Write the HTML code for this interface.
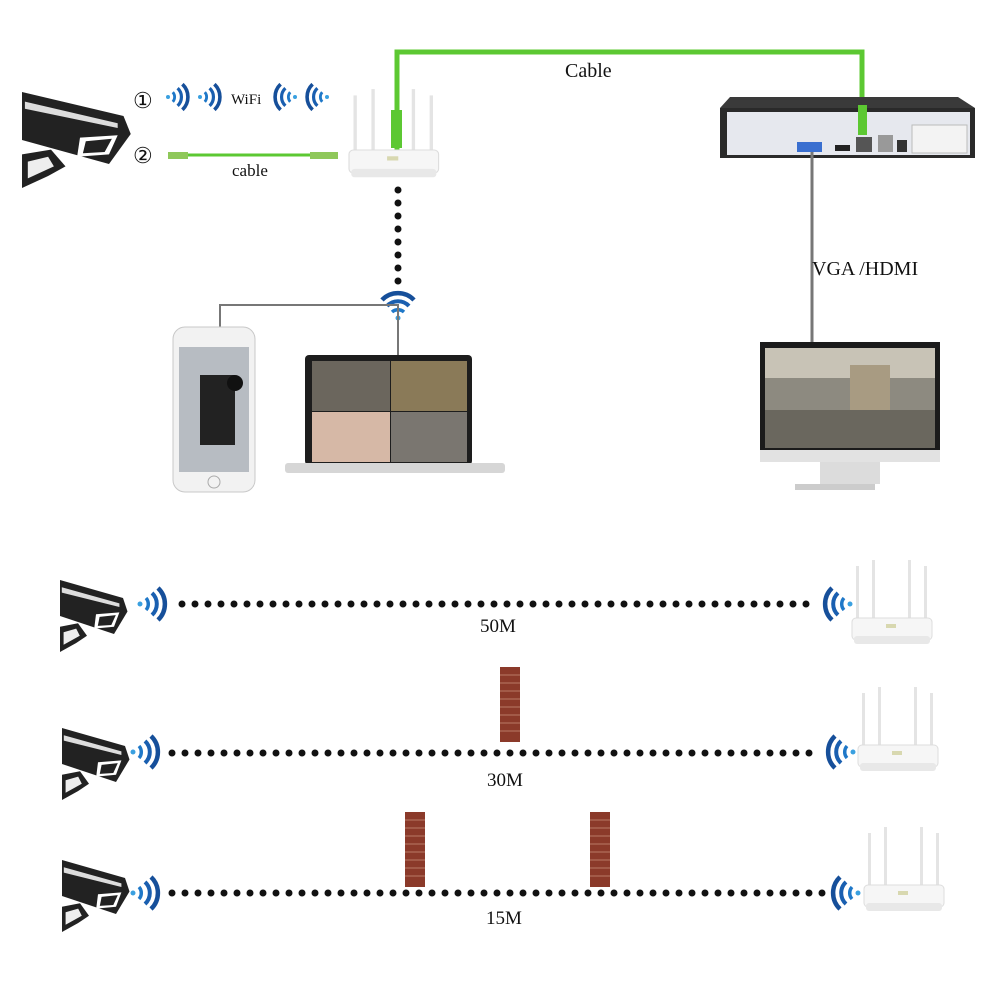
<!DOCTYPE html>
<html><head><meta charset="utf-8"><style>
html,body{margin:0;padding:0;background:#fff;}
svg{display:block;}
text{font-family:"Liberation Serif",serif;fill:#111;}
</style></head><body>
<svg width="1000" height="1000" viewBox="0 0 1000 1000" xmlns="http://www.w3.org/2000/svg">
<defs>
 <g id="cam">
  <polygon points="0,0 70,20 75,35 60,60 0,40" fill="#222"/>
  <polygon points="2,8 66,26 66,30 2,14" fill="#ddd"/>
  <polygon points="40,38 66,36 60,52 38,54" fill="#fff"/>
  <polygon points="44,41 62,39 57,50 42,51" fill="#222"/>
  <polygon points="0,52 20,48 30,62 18,70 0,80" fill="#222"/>
  <polygon points="4,58 18,54 22,62 4,72" fill="#eee"/>
 </g>
 <g id="wifiR">
  <circle cx="0" cy="0" r="2.5" fill="#3aa0e0"/>
  <path d="M6,-6 A9,9 0 0 1 6,6" stroke="#1f78c8" stroke-width="3.5" fill="none"/>
  <path d="M12,-11 A15,15 0 0 1 12,11" stroke="#1a5fb0" stroke-width="4" fill="none"/>
  <path d="M18,-16 A22,22 0 0 1 18,16" stroke="#164f9a" stroke-width="4.5" fill="none"/>
 </g>
 <g id="router">
  <rect x="4" y="-52" width="3" height="56" fill="#e4e4e4"/>
  <rect x="20" y="-58" width="3" height="60" fill="#e4e4e4"/>
  <rect x="56" y="-58" width="3" height="60" fill="#e4e4e4"/>
  <rect x="72" y="-52" width="3" height="56" fill="#e4e4e4"/>
  <rect x="0" y="0" width="80" height="22" rx="4" fill="#f6f6f6" stroke="#ddd"/>
  <rect x="2" y="18" width="76" height="8" rx="3" fill="#e8e8e8"/>
  <rect x="34" y="6" width="10" height="4" fill="#d8d8b0"/>
 </g>
 <g id="wall">
  <rect x="0" y="0" width="20" height="75" fill="#8b3a2a"/>
  <path d="M0,8H20M0,16H20M0,24H20M0,32H20M0,40H20M0,48H20M0,56H20M0,64H20" stroke="#b97a66" stroke-width="1"/>
 </g>
</defs>

<polyline points="397,150 397,52 862,52 862,108" stroke="#5cc832" stroke-width="5" fill="none"/>
<text x="565" y="77" font-size="20">Cable</text>

<g transform="translate(22,92) scale(1.45,1.2)"><use href="#cam"/></g>
<text x="133" y="108" font-size="22">①</text>
<text x="133" y="163" font-size="22">②</text>
<use href="#wifiR" transform="translate(168,97) scale(0.8)"/>
<use href="#wifiR" transform="translate(200,97) scale(0.8)"/>
<text x="231" y="104" font-size="15">WiFi</text>
<use href="#wifiR" transform="translate(295,97) scale(-0.8,0.8)"/>
<use href="#wifiR" transform="translate(327,97) scale(-0.8,0.8)"/>
<rect x="168" y="152" width="20" height="7" fill="#8fc85a"/>
<line x1="188" y1="155" x2="310" y2="155" stroke="#5cc832" stroke-width="3"/>
<rect x="310" y="152" width="28" height="7" fill="#8fc85a"/>
<text x="232" y="176" font-size="17">cable</text>

<g transform="translate(349,150) scale(1.12,1.05)"><use href="#router"/></g>
<rect x="391" y="110" width="11" height="38" fill="#5cc832"/>

<line x1="398" y1="190" x2="398" y2="282" stroke="#111" stroke-width="7" stroke-linecap="round" stroke-dasharray="0 13"/>
<g transform="translate(398,318) rotate(-90)"><use href="#wifiR"/></g>
<polyline points="220,330 220,305 398,305 398,355" stroke="#777" stroke-width="2" fill="none"/>

<polygon points="730,97 958,97 975,108 720,108" fill="#3a3a3a"/>
<rect x="720" y="108" width="255" height="50" fill="#2a2a2a"/>
<rect x="727" y="112" width="243" height="43" fill="#e6e8ee"/>
<rect x="797" y="142" width="25" height="10" fill="#3a6fd0"/>
<rect x="835" y="145" width="15" height="6" fill="#222"/>
<rect x="856" y="137" width="16" height="15" fill="#555"/>
<rect x="878" y="135" width="15" height="17" fill="#999"/>
<rect x="897" y="140" width="10" height="12" fill="#333"/>
<rect x="912" y="125" width="55" height="28" fill="#f3f3f3" stroke="#bbb"/>
<rect x="858" y="105" width="9" height="30" fill="#5cc832"/>
<line x1="812" y1="152" x2="812" y2="343" stroke="#777" stroke-width="3"/>
<text x="812" y="275" font-size="20">VGA /HDMI</text>

<rect x="760" y="342" width="180" height="120" fill="#1b1b1b"/>
<rect x="765" y="348" width="170" height="100" fill="#8d8a80"/>
<rect x="765" y="348" width="170" height="30" fill="#c8c3b6"/>
<rect x="765" y="410" width="170" height="38" fill="#6a675e"/>
<rect x="850" y="365" width="40" height="45" fill="#a89b82"/>
<rect x="760" y="450" width="180" height="12" fill="#e2e2e2"/>
<rect x="820" y="462" width="60" height="22" fill="#dcdcdc"/>
<rect x="795" y="484" width="80" height="6" fill="#ccc"/>

<rect x="173" y="327" width="82" height="165" rx="12" fill="#f2f2f2" stroke="#c8c8c8"/>
<rect x="179" y="347" width="70" height="125" fill="#b7bcc2"/>
<rect x="200" y="375" width="35" height="70" fill="#222"/>
<circle cx="235" cy="383" r="8" fill="#111"/>
<circle cx="214" cy="482" r="6" fill="none" stroke="#aaa"/>

<rect x="305" y="355" width="167" height="110" rx="4" fill="#1d1d1d"/>
<rect x="312" y="361" width="78" height="50" fill="#6b665d"/>
<rect x="391" y="361" width="76" height="50" fill="#8a7a58"/>
<rect x="312" y="412" width="78" height="50" fill="#d6b8a6"/>
<rect x="391" y="412" width="76" height="50" fill="#7a7670"/>
<rect x="285" y="463" width="220" height="10" rx="3" fill="#d6d6d6"/>

<g transform="translate(60,580) scale(0.9)"><use href="#cam"/></g>
<use href="#wifiR" transform="translate(140,604)"/>
<line x1="182" y1="604" x2="815" y2="604" stroke="#111" stroke-width="7" stroke-linecap="round" stroke-dasharray="0 13"/>
<use href="#wifiR" transform="translate(850,604) scale(-1,1)"/>
<g transform="translate(852,618)"><use href="#router"/></g>
<text x="480" y="632" font-size="19">50M</text>

<use href="#wall" transform="translate(500,667)"/>
<g transform="translate(62,728) scale(0.9)"><use href="#cam"/></g>
<use href="#wifiR" transform="translate(133,752)"/>
<line x1="172" y1="753" x2="820" y2="753" stroke="#111" stroke-width="7" stroke-linecap="round" stroke-dasharray="0 13"/>
<use href="#wifiR" transform="translate(853,752) scale(-1,1)"/>
<g transform="translate(858,745)"><use href="#router"/></g>
<text x="487" y="786" font-size="19">30M</text>

<use href="#wall" transform="translate(405,812)"/>
<use href="#wall" transform="translate(590,812)"/>
<g transform="translate(62,860) scale(0.9)"><use href="#cam"/></g>
<use href="#wifiR" transform="translate(133,893)"/>
<line x1="172" y1="893" x2="826" y2="893" stroke="#111" stroke-width="7" stroke-linecap="round" stroke-dasharray="0 13"/>
<use href="#wifiR" transform="translate(858,893) scale(-1,1)"/>
<g transform="translate(864,885)"><use href="#router"/></g>
<text x="486" y="924" font-size="19">15M</text>
</svg>
</body></html>
